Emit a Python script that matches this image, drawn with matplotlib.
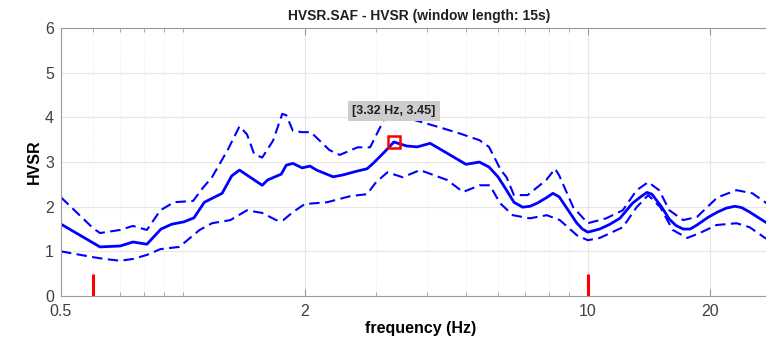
import matplotlib
matplotlib.use("Agg")
import matplotlib.pyplot as plt
from matplotlib.ticker import FixedLocator, NullFormatter, LogLocator

plt.rcParams['font.family'] = ['Liberation Sans', 'DejaVu Sans']

# mean H/V curve
freq_mean = [0.5, 0.624, 0.70, 0.753, 0.815, 0.883, 0.94, 1.005, 1.065, 1.13, 1.25,
             1.32, 1.38, 1.57, 1.62, 1.75, 1.80, 1.87, 1.97, 2.06, 2.14, 2.35, 2.48,
             2.70, 2.85, 2.95, 3.15, 3.32, 3.57, 3.79, 4.08, 4.49, 5.0, 5.4, 5.7,
             6.0, 6.3, 6.57, 6.9, 7.2, 7.5, 7.9, 8.2, 8.5, 8.9, 9.4, 9.7, 10.0,
             10.7, 11.3, 12.0, 12.9, 13.5, 14.0, 14.4, 15.2, 15.9, 16.5, 17.2,
             17.9, 18.6, 19.8, 20.9, 22.0, 23.1, 24.0, 25.1, 27.4, 30.0]
hvsr_mean = [1.61, 1.10, 1.12, 1.21, 1.16, 1.50, 1.61, 1.66, 1.75, 2.10, 2.30,
             2.69, 2.82, 2.48, 2.60, 2.73, 2.93, 2.97, 2.87, 2.91, 2.82, 2.67, 2.71,
             2.80, 2.85, 2.97, 3.23, 3.45, 3.36, 3.34, 3.42, 3.20, 2.95, 3.00, 2.89,
             2.67, 2.37, 2.10, 1.99, 2.01, 2.08, 2.20, 2.30, 2.22, 1.95, 1.63, 1.50,
             1.43, 1.50, 1.60, 1.74, 2.08, 2.22, 2.32, 2.28, 2.00, 1.72, 1.58, 1.50,
             1.50, 1.59, 1.76, 1.88, 1.97, 2.01, 1.98, 1.88, 1.66, 1.48]

# mean + std
freq_upper = [0.5, 0.60, 0.624, 0.70, 0.753, 0.815, 0.88, 0.95, 1.06, 1.12, 1.18,
              1.29, 1.38, 1.44, 1.50, 1.57, 1.67, 1.76, 1.80, 1.87, 1.97, 2.07,
              2.30, 2.44, 2.70, 2.90, 3.15, 3.32, 3.7, 4.3, 4.83, 5.4, 5.7, 6.1,
              6.3, 6.57, 7.1, 7.9, 8.3, 8.5, 9.2, 10.0, 11.1, 12.2, 13.2, 14.1,
              15.0, 15.9, 17.2, 18.6, 20.9, 23.3, 25.5, 27.4, 30.0]
hvsr_upper = [2.21, 1.52, 1.41, 1.48, 1.57, 1.48, 1.92, 2.10, 2.13, 2.42, 2.66,
              3.27, 3.80, 3.62, 3.18, 3.10, 3.48, 4.08, 4.05, 3.70, 3.67, 3.67,
              3.27, 3.16, 3.33, 3.33, 3.98, 4.05, 3.95, 3.78, 3.64, 3.49, 3.34, 2.82,
              2.66, 2.26, 2.26, 2.60, 2.85, 2.70, 1.99, 1.63, 1.74, 1.92, 2.37, 2.55,
              2.37, 1.92, 1.70, 1.77, 2.21, 2.37, 2.30, 2.10, 1.90]

# mean - std
freq_lower = [0.5, 0.60, 0.64, 0.70, 0.753, 0.815, 0.88, 0.98, 1.10, 1.18, 1.31,
              1.44, 1.57, 1.70, 1.77, 1.87, 2.0, 2.27, 2.60, 2.85, 3.0, 3.2,
              3.49, 3.85, 4.49, 4.92, 5.41, 5.73, 6.07, 6.53, 7.19, 7.92, 8.53,
              9.4, 10.0, 10.7, 12.2, 13.2, 14.1, 15.1, 16.2, 17.6, 18.9, 20.8,
              23.3, 25.1, 27.4, 30.0]
hvsr_lower = [1.00, 0.87, 0.83, 0.79, 0.83, 0.92, 1.05, 1.10, 1.48, 1.63, 1.70,
              1.92, 1.86, 1.70, 1.70, 1.88, 2.06, 2.10, 2.24, 2.28, 2.55, 2.77,
              2.66, 2.82, 2.60, 2.33, 2.48, 2.48, 2.08, 1.81, 1.74, 1.81, 1.70,
              1.36, 1.25, 1.30, 1.54, 1.99, 2.26, 1.99, 1.48, 1.30, 1.41, 1.59,
              1.63, 1.54, 1.30, 1.15]

# frequency band limits
band_limits = [0.6, 10.0]
peak_freq = 3.32
peak_hvsr = 3.45

fig = plt.figure(figsize=(7.66, 3.43), dpi=100)
ax = fig.add_axes([0.0796, 0.137, 0.94, 0.781])

ax.plot(freq_mean, hvsr_mean, color='#0000ff', lw=2.0)
ax.plot(freq_upper, hvsr_upper, color='#0000ff', lw=1.5, dashes=(5, 2.6))
ax.plot(freq_lower, hvsr_lower, color='#0000ff', lw=1.5, dashes=(5, 2.6))

for f in band_limits:
    ax.plot([f, f], [0, 0.5], color='#ff0000', lw=2.2, solid_capstyle='butt')

ax.plot([peak_freq], [peak_hvsr], marker='s', ms=8.5, mfc='none', mec='#ff0000', mew=1.8)
ax.annotate('[3.32 Hz, 3.45]', xy=(peak_freq, peak_hvsr), xytext=(0, 18),
            textcoords='offset points', ha='center', va='bottom',
            fontsize=9, fontweight='bold', color='#202020',
            bbox=dict(boxstyle='square,pad=0.35', fc='#cdcdcd', ec='none'))

ax.set_xscale('log')
ax.set_xlim(0.5, 30)
ax.set_ylim(0, 6)
ax.xaxis.set_major_locator(FixedLocator([0.5, 2, 10, 20]))
ax.xaxis.set_major_formatter(plt.FixedFormatter(['0.5', '2', '10', '20']))
ax.xaxis.set_minor_locator(LogLocator(base=10, subs=range(1, 10)))
ax.xaxis.set_minor_formatter(NullFormatter())
ax.set_yticks(range(0, 7))

ax.grid(True, which='major', color='#e6e6e6', lw=0.8)
ax.grid(True, which='minor', axis='x', color='#eeeeee', lw=0.7, ls=':')
ax.set_axisbelow(True)

for s in ax.spines.values():
    s.set_color('#9a9a9a')
    s.set_linewidth(0.8)
ax.tick_params(which='both', direction='in', top=True, right=False,
               colors='#9a9a9a', labelcolor='#404040', labelsize=11.5)
ax.tick_params(which='major', length=5)
ax.tick_params(which='minor', length=3)
ax.tick_params(axis='x', pad=6)
ax.tick_params(axis='y', length=0, pad=5)

ax.set_xlabel('frequency (Hz)', fontsize=11.5, fontweight='bold', labelpad=1)
ax.set_ylabel('HVSR', fontsize=11.5, fontweight='bold', labelpad=2)
fig.text(0.547, 0.952, 'HVSR.SAF - HVSR (window length: 15s)', ha='center', va='center',
         fontsize=10, fontweight='bold', color='#202020')

fig.savefig('out.png', dpi=100)
